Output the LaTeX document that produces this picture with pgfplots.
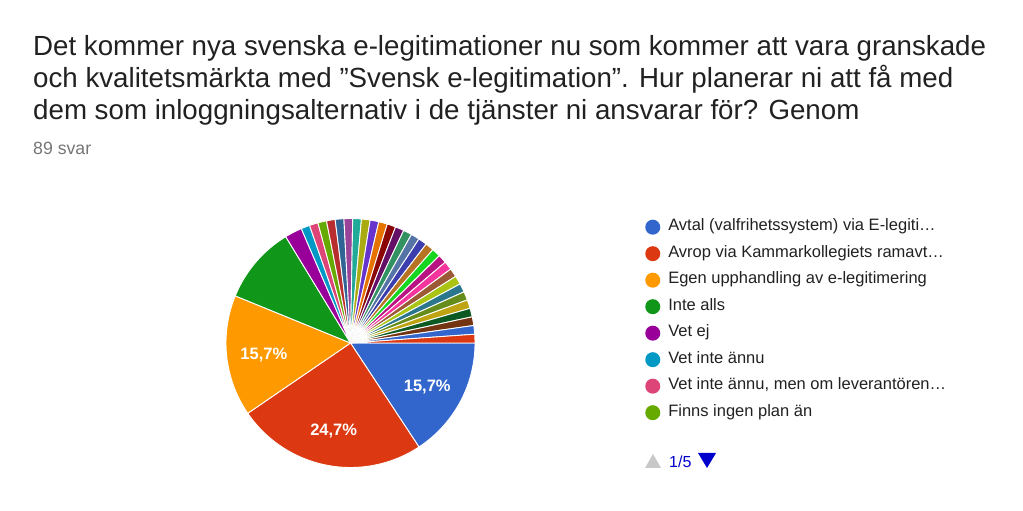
\documentclass[border=0pt]{standalone}
\usepackage{fontspec}
\setmainfont{Liberation Sans}
\usepackage{pgfplots}
\pgfplotsset{compat=1.18}
\usepackage{pgfplotstable}

% Google Charts default palette
\definecolor{s1}{HTML}{3366CC}
\definecolor{s2}{HTML}{DC3912}
\definecolor{s3}{HTML}{FF9900}
\definecolor{s4}{HTML}{109618}
\definecolor{s5}{HTML}{990099}
\definecolor{s6}{HTML}{0099C6}
\definecolor{s7}{HTML}{DD4477}
\definecolor{s8}{HTML}{66AA00}
\definecolor{s9}{HTML}{B82E2E}
\definecolor{s10}{HTML}{316395}
\definecolor{s11}{HTML}{994499}
\definecolor{s12}{HTML}{22AA99}
\definecolor{s13}{HTML}{AAAA11}
\definecolor{s14}{HTML}{6633CC}
\definecolor{s15}{HTML}{E67300}
\definecolor{s16}{HTML}{8B0707}
\definecolor{s17}{HTML}{651067}
\definecolor{s18}{HTML}{329262}
\definecolor{s19}{HTML}{5574A6}
\definecolor{s20}{HTML}{3B3EAC}
\definecolor{s21}{HTML}{B77322}
\definecolor{s22}{HTML}{16D620}
\definecolor{s23}{HTML}{B91383}
\definecolor{s24}{HTML}{F4359E}
\definecolor{s25}{HTML}{9C5935}
\definecolor{s26}{HTML}{A9C413}
\definecolor{s27}{HTML}{2A778D}
\definecolor{s28}{HTML}{668D1C}
\definecolor{s29}{HTML}{BEA413}
\definecolor{s30}{HTML}{0C5922}
\definecolor{s31}{HTML}{743411}
\definecolor{titlec}{HTML}{212121}
\definecolor{subc}{HTML}{757575}
\definecolor{navc}{HTML}{0000CC}
\definecolor{navoff}{HTML}{C8C8C8}

% answers (89 svar), clockwise from 3 o'clock
\pgfplotstableread{
n c
14 s1
22 s2
14 s3
9 s4
2 s5
1 s6
1 s7
1 s8
1 s9
1 s10
1 s11
1 s12
1 s13
1 s14
1 s15
1 s16
1 s17
1 s18
1 s19
1 s20
1 s21
1 s22
1 s23
1 s24
1 s25
1 s26
1 s27
1 s28
1 s29
1 s30
1 s31
1 s1
1 s2
}\piedata

\pgfplotstablegetrowsof{\piedata}
\pgfmathtruncatemacro\lastrow{\pgfplotsretval-1}

\newcommand\labelfont{\bfseries\fontsize{16.5}{19}\selectfont}

\begin{document}
\begin{tikzpicture}[x=1pt,y=1pt]
\path[use as bounding box] (0,0) rectangle (1023,511);

\begin{scope}[every node/.style={anchor=base west, inner sep=0pt, text=titlec, font=\fontsize{27.7}{32}\selectfont}]
\node at (33,455.5) {Det kommer nya svenska e-legitimationer nu som kommer att vara granskade};
\node at (33,423.5) {och kvalitetsmärkta med ”Svensk e-legitimation”. Hur planerar ni att få med};
\node at (33,391.5) {dem som inloggningsalternativ i de tjänster ni ansvarar för? Genom};
\end{scope}
\node[anchor=base west, inner sep=0pt, text=subc, font=\fontsize{17.7}{21}\selectfont] at (33,356) {89 svar};

\begin{axis}[
  at={(350.5pt,168pt)}, anchor=origin,
  scale only axis, width=249pt, height=249pt,
  xmin=-1, xmax=1, ymin=-1, ymax=1,
  hide axis, clip=false,
  legend image code/.code={\fill[draw=none] (7.5pt,0pt) circle (7.5pt);},
  legend style={
    draw=none, fill=none, inner sep=0pt,
    at={(1.683,0.996)}, anchor=north west,
    font=\fontsize{16.5}{19}\selectfont,
    text=titlec,
    cells={anchor=west},
    nodes={inner sep=0pt, text height=11pt, text depth=3.5pt},
    row sep=11.5pt, column sep=8pt,
  },
]
\def\total{89}
\def\cum{0}
\pgfplotsforeachungrouped \i in {0,...,\lastrow}{
  \pgfplotstablegetelem{\i}{n}\of\piedata \let\val\pgfplotsretval
  \pgfplotstablegetelem{\i}{c}\of\piedata \let\col\pgfplotsretval
  \pgfmathsetmacro\aend{-\cum/\total*360}
  \pgfmathsetmacro\astart{-(\cum+\val)/\total*360}
  \edef\doplot{\noexpand\addplot[fill=\col, draw=white, line width=0.9pt,
      domain=\astart:\aend, samples=60, variable=\noexpand\t]
      ({cos(\noexpand\t)},{sin(\noexpand\t)}) -- (axis cs:0,0) -- cycle;}
  \doplot
  \pgfmathparse{\val>=14}
  \ifnum\pgfmathresult=1
    \pgfmathsetmacro\amid{(\astart+\aend)/2}
    \pgfmathsetmacro\lx{0.70*cos(\amid)}
    \pgfmathsetmacro\ly{0.70*sin(\amid)}
    \pgfmathtruncatemacro\pcm{round(\val/\total*1000)}
    \pgfmathtruncatemacro\pcint{\pcm/10}
    \pgfmathtruncatemacro\pcdec{\pcm-10*\pcint}
    \edef\dolabel{\noexpand\node[font=\noexpand\labelfont, text=white, yshift=-3pt]
      at (axis cs:\lx,\ly) {\pcint,\pcdec\noexpand\%};}
    \dolabel
  \fi
  \pgfmathsetmacro\cum{\cum+\val}
}
\legend{Avtal (valfrihetssystem) via E-legiti…,
  Avrop via Kammarkollegiets ramavt…,
  Egen upphandling av e-legitimering,
  Inte alls,
  Vet ej,
  Vet inte ännu,
  {Vet inte ännu, men om leverantören…},
  Finns ingen plan än}
\end{axis}

% legend pager
\fill[navoff] (645,43) -- (661,43) -- (653,57) -- cycle;
\node[anchor=base west, inner sep=0pt, text=navc, font=\fontsize{16}{19}\selectfont] at (669,43) {1/5};
\fill[navc] (698,58) -- (716,58) -- (707,43) -- cycle;
\end{tikzpicture}
\end{document}
